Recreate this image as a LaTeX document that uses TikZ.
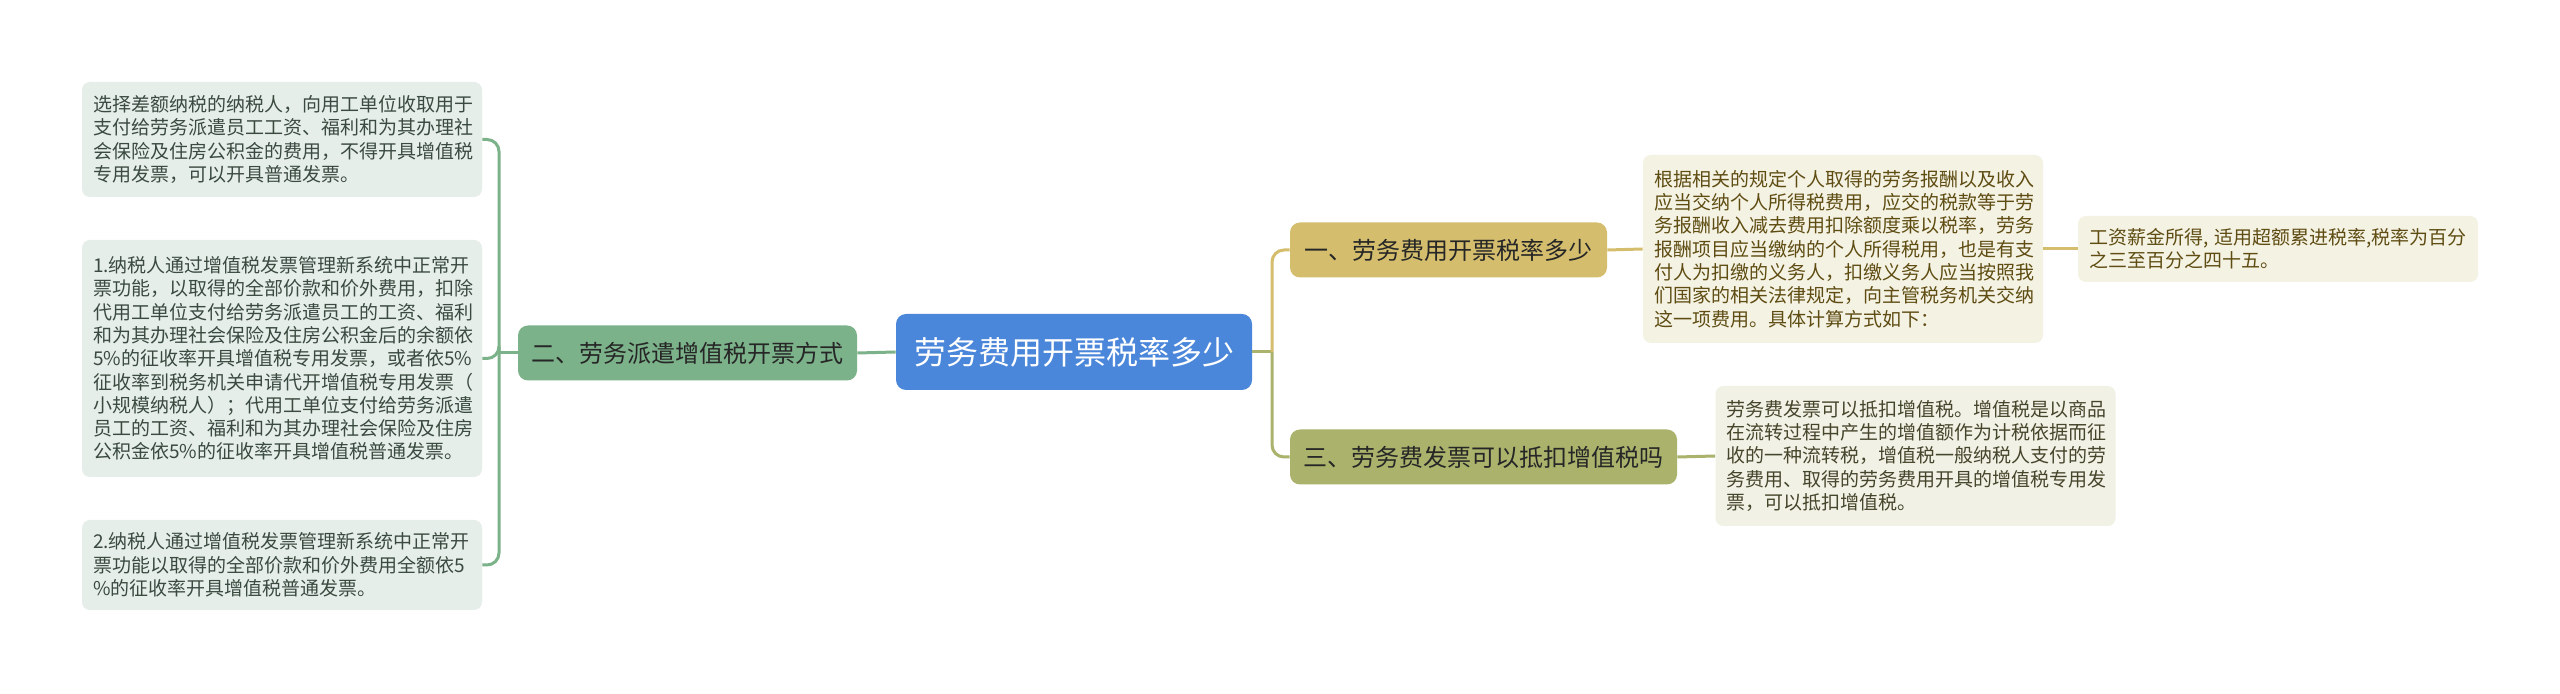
\documentclass[tikz,border=0pt]{standalone}
\usepackage{fontspec}
\setmainfont{Noto Sans CJK SC}
\definecolor{rootblue}{HTML}{4A86DA}
\definecolor{gfill}{HTML}{7CB28A}
\definecolor{yfill}{HTML}{D4BE6E}
\definecolor{ofill}{HTML}{AAB26C}
\definecolor{gleaf}{HTML}{E6EEE9}
\definecolor{yleaf}{HTML}{F4F2E3}
\definecolor{oleaf}{HTML}{F1F1E5}
\definecolor{gtext}{HTML}{3A4A40}
\definecolor{ytext}{HTML}{5E4C12}
\definecolor{otext}{HTML}{45452C}
\begin{document}
\begin{tikzpicture}[x=0.5pt,y=-0.5pt,
  rootbox/.style={fill=rootblue,rounded corners=5pt,text=white,font=\fontsize{16pt}{19pt}\selectfont,minimum width=178pt,minimum height=38pt,inner sep=0pt},
  branchbox/.style={rounded corners=5pt,text=black!85,font=\fontsize{12pt}{14pt}\selectfont,minimum height=27.5pt,inner sep=0pt},
  leafbox/.style={rounded corners=4pt,align=left,text width=189pt,inner xsep=5.5pt,inner ysep=0pt,font=\fontsize{9.5pt}{11.65pt}\selectfont},
  gline/.style={draw=gfill,line width=1.5pt,rounded corners=6pt},
  yline/.style={draw=yfill,line width=1.5pt,rounded corners=6pt},
  oline/.style={draw=ofill,line width=1.5pt,rounded corners=6pt}]
\useasboundingbox (0,0) rectangle (2560,694);
\fill[white] (0,0) rectangle (2560,694);

\node[rootbox] (root) at (1074,352) {劳务费用开票税率多少};

\node[branchbox,fill=gfill,minimum width=169.5pt] (n2) at (687.5,353) {二、劳务派遣增值税开票方式};
\node[branchbox,fill=yfill,minimum width=158.5pt] (n1) at (1448.5,250) {一、劳务费用开票税率多少};
\node[branchbox,fill=ofill,minimum width=193.5pt] (n3) at (1483.5,457) {三、劳务费发票可以抵扣增值税吗};

\node[leafbox,fill=gleaf,text=gtext,minimum height=57.5pt] (L1) at (282,139.5) {选择差额纳税的纳税人，向用工单位收取用于\\支付给劳务派遣员工工资、福利和为其办理社\\会保险及住房公积金的费用，不得开具增值税\\专用发票，可以开具普通发票。};
\node[leafbox,fill=gleaf,text=gtext,minimum height=118.5pt] (L2) at (282,358.5) {1.纳税人通过增值税发票管理新系统中正常开\\票功能，以取得的全部价款和价外费用，扣除\\代用工单位支付给劳务派遣员工的工资、福利\\和为其办理社会保险及住房公积金后的余额依\\5\%的征收率开具增值税专用发票，或者依5\%\\征收率到税务机关申请代开增值税专用发票（\\小规模纳税人）；代用工单位支付给劳务派遣\\员工的工资、福利和为其办理社会保险及住房\\公积金依5\%的征收率开具增值税普通发票。};
\node[leafbox,fill=gleaf,text=gtext,minimum height=45pt] (L3) at (282,565) {2.纳税人通过增值税发票管理新系统中正常开\\票功能以取得的全部价款和价外费用全额依5\\\%的征收率开具增值税普通发票。};

\node[leafbox,fill=yleaf,text=ytext,minimum height=94pt] (R1) at (1843,249) {根据相关的规定个人取得的劳务报酬以及收入\\应当交纳个人所得税费用，应交的税款等于劳\\务报酬收入减去费用扣除额度乘以税率，劳务\\报酬项目应当缴纳的个人所得税用，也是有支\\付人为扣缴的义务人，扣缴义务人应当按照我\\们国家的相关法律规定，向主管税务机关交纳\\这一项费用。具体计算方式如下：};
\node[leafbox,fill=yleaf,text=ytext,minimum height=33pt] (R2) at (2278,249) {工资薪金所得, 适用超额累进税率,税率为百分\\之三至百分之四十五。};
\node[leafbox,fill=oleaf,text=otext,minimum height=70pt] (R3) at (1915.5,456) {劳务费发票可以抵扣增值税。增值税是以商品\\在流转过程中产生的增值额作为计税依据而征\\收的一种流转税，增值税一般纳税人支付的劳\\务费用、取得的劳务费用开具的增值税专用发\\票，可以抵扣增值税。};

\coordinate (b2) at (499,353);
\coordinate (b1) at (1272,352);

\draw[gline] (root.west) -- (n2.east);
\draw[gline] (n2.west) -- (b2);
\draw[gline] (b2) |- (L1.east);
\draw[gline] (b2) |- (L2.east);
\draw[gline] (b2) |- (L3.east);

\draw[oline] (root.east) -- (b1);
\draw[yline] (b1) |- (n1.west);
\draw[oline] (b1) |- (n3.west);

\draw[yline] (n1.east) -- (R1.west);
\draw[yline] (R1.east) -- (R2.west);
\draw[oline] (n3.east) -- (R3.west);
\end{tikzpicture}
\end{document}
